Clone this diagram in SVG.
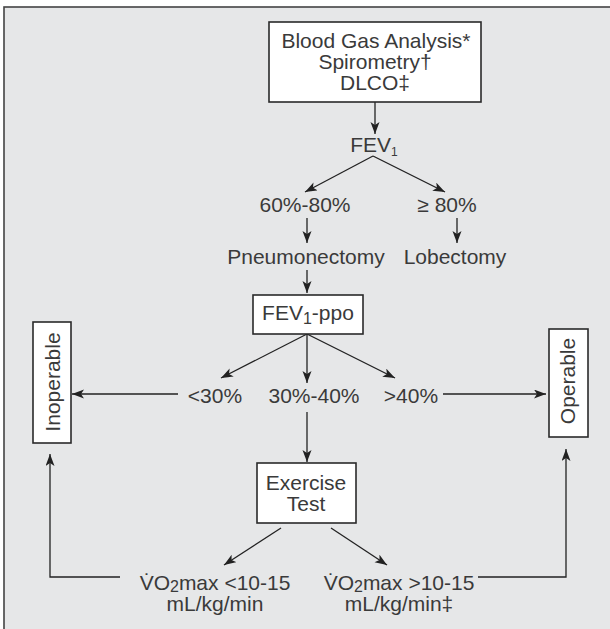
<svg xmlns="http://www.w3.org/2000/svg" width="610" height="629" viewBox="0 0 610 629">
<defs>
<style>
.t{font-family:"Liberation Sans",Arial,sans-serif;font-size:21px;fill:#3a3a3a;text-anchor:middle}
.box{fill:#ffffff;stroke:#2a2a2a;stroke-width:1.6}
.c{fill:none;stroke:#222;stroke-width:1.3}
</style>
<marker id="ah" markerUnits="userSpaceOnUse" markerWidth="14" markerHeight="10" refX="12" refY="4.5" orient="auto">
<path d="M0,0 L12,4.5 L0,9 L3,4.5 z" fill="#222"/>
</marker>
</defs>
<rect x="0" y="0" width="610" height="629" fill="#ffffff"/>
<rect x="4" y="7" width="610" height="630" fill="#e6e7e8" stroke="#444" stroke-width="1.6"/>

<g id="connectors">
<line class="c" x1="375" y1="102" x2="375" y2="134" marker-end="url(#ah)"/>
<line class="c" x1="373" y1="156" x2="305" y2="192" marker-end="url(#ah)"/>
<line class="c" x1="373" y1="156" x2="445" y2="192" marker-end="url(#ah)"/>
<line class="c" x1="307" y1="218" x2="307" y2="243" marker-end="url(#ah)"/>
<line class="c" x1="457" y1="218" x2="457" y2="243" marker-end="url(#ah)"/>
<line class="c" x1="307" y1="270" x2="307" y2="293" marker-end="url(#ah)"/>
<line class="c" x1="307" y1="334" x2="221" y2="378" marker-end="url(#ah)"/>
<line class="c" x1="307" y1="334" x2="307" y2="383" marker-end="url(#ah)"/>
<line class="c" x1="307" y1="334" x2="395" y2="378" marker-end="url(#ah)"/>
<line class="c" x1="178" y1="394" x2="72" y2="394" marker-end="url(#ah)"/>
<line class="c" x1="443" y1="394" x2="546" y2="394" marker-end="url(#ah)"/>
<line class="c" x1="307" y1="412" x2="307" y2="462" marker-end="url(#ah)"/>
<line class="c" x1="281" y1="528" x2="224" y2="565" stroke-width="2" marker-end="url(#ah)"/>
<line class="c" x1="331" y1="528" x2="387" y2="565" marker-end="url(#ah)"/>
<polyline class="c" points="120,577 50,577 50,454" marker-end="url(#ah)"/>
<polyline class="c" points="478,577 566,577 566,449" marker-end="url(#ah)"/>
</g>

<g id="start">
<rect class="box" x="269" y="22" width="212" height="80"/>
<text class="t" x="376" y="48">Blood Gas Analysis*</text>
<text class="t" x="375" y="69">Spirometry†</text>
<text class="t" x="375" y="90">DLCO‡</text>
</g>

<g id="fev1">
<text class="t" x="374" y="152">FEV<tspan font-size="12" dy="4">1</tspan></text>
</g>

<g id="range6080"><text class="t" x="305" y="212">60%-80%</text></g>
<g id="range80"><text class="t" x="447" y="212">≥ 80%</text></g>
<g id="pneumonectomy"><text class="t" x="306" y="264">Pneumonectomy</text></g>
<g id="lobectomy"><text class="t" x="455" y="264">Lobectomy</text></g>

<g id="fevppo">
<rect class="box" x="253" y="295" width="110" height="39"/>
<text class="t" x="308" y="320">FEV<tspan font-size="16" dy="4">1</tspan><tspan dy="-4">-ppo</tspan></text>
</g>

<g id="lt30"><text class="t" x="215" y="403">&lt;30%</text></g>
<g id="r3040"><text class="t" x="314" y="403">30%-40%</text></g>
<g id="gt40"><text class="t" x="411" y="403">&gt;40%</text></g>

<g id="inoperable">
<rect class="box" x="33" y="322" width="38" height="121"/>
<text class="t" transform="translate(60,382) rotate(-90)">Inoperable</text>
</g>

<g id="operable">
<rect class="box" x="549" y="329" width="39" height="108"/>
<text class="t" transform="translate(575,381) rotate(-90)">Operable</text>
</g>

<g id="exercise">
<rect class="box" x="257" y="463" width="99" height="60"/>
<text class="t" x="306" y="490">Exercise</text>
<text class="t" x="306" y="511">Test</text>
</g>

<g id="vo2low">
<text class="t" x="215" y="590">V̇O<tspan font-size="16" dy="2">2</tspan><tspan dy="-2">max &lt;10-15</tspan></text>
<text class="t" x="215" y="611">mL/kg/min</text>
</g>

<g id="vo2high">
<text class="t" x="399" y="590">V̇O<tspan font-size="16" dy="2">2</tspan><tspan dy="-2">max &gt;10-15</tspan></text>
<text class="t" x="399" y="611">mL/kg/min‡</text>
</g>
</svg>
